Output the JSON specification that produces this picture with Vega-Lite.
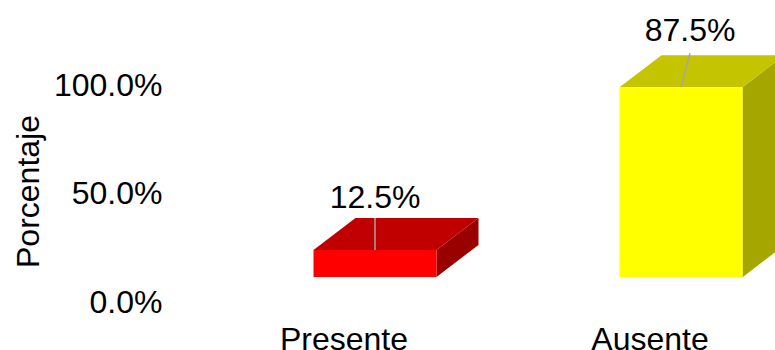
{
  "$schema": "https://vega.github.io/schema/vega-lite/v6.json",
  "autosize": "none",
  "padding": {"left": 191, "top": 85, "right": 0, "bottom": 48},
  "width": 612,
  "height": 217,
  "background": "white",
  "config": {"view": {"stroke": null}, "font": "Liberation Sans"},
  "data": {"values": [
    {"categoria": "Presente", "porcentaje": 0.125},
    {"categoria": "Ausente", "porcentaje": 0.875}
  ]},
  "encoding": {
    "x": {
      "field": "categoria",
      "type": "nominal",
      "sort": ["Presente", "Ausente"],
      "scale": {"paddingInner": 0, "paddingOuter": 0},
      "axis": {"title": null, "labelAngle": 0, "domain": false, "ticks": false, "labelFontSize": 32, "labelColor": "#000000", "labelPadding": 37, "labelBaseline": "middle"}
    },
    "y": {
      "field": "porcentaje",
      "type": "quantitative",
      "scale": {"domain": [0, 1], "nice": false},
      "axis": {"values": [0, 0.5, 1], "format": ".1%", "title": "Porcentaje", "titleFontSize": 32, "titleFontWeight": "normal", "titleColor": "#000000", "titleY": 106, "labelFontSize": 32, "labelColor": "#000000", "labelPadding": 29, "titlePadding": 8, "domain": false, "ticks": false, "grid": false}
    }
  },
  "layer": [
    {
      "description": "Right-hand side face of each prism, as tall as its bar",
      "mark": {"type": "point", "filled": true, "opacity": 1, "size": 4, "xOffset": 92.5, "yOffset": -25},
      "encoding": {
        "color": {"field": "categoria", "scale": {"domain": ["Presente", "Ausente"], "range": ["#990000", "#a6a600"]}, "legend": null},
        "shape": {"field": "categoria", "scale": {"domain": ["Presente", "Ausente"], "range": ["M0,0L42,-32L42,-5L0,27Z", "M0,0L42,-32L42,158L0,190Z"]}, "legend": null}
      }
    },
    {
      "description": "Top face of each prism",
      "mark": {"type": "point", "filled": true, "opacity": 1, "size": 4, "xOffset": -30.5, "yOffset": -25, "shape": "M0,0L123,0L165,-32L42,-32Z"},
      "encoding": {
        "color": {"field": "categoria", "scale": {"domain": ["Presente", "Ausente"], "range": ["#c00000", "#c4c400"]}, "legend": null}
      }
    },
    {
      "description": "Front face of each prism",
      "mark": {"type": "bar", "size": 123, "xOffset": 31, "yOffset": -25, "y2Offset": -25},
      "encoding": {
        "color": {"field": "categoria", "scale": {"domain": ["Presente", "Ausente"], "range": ["#ff0000", "#ffff00"]}, "legend": null}
      }
    },
    {
      "description": "Leader lines from the bar tops up to the value labels",
      "mark": {"type": "point", "filled": false, "opacity": 1, "size": 4, "strokeWidth": 1.5, "stroke": "#a6a6a6", "xOffset": 31, "yOffset": -25},
      "encoding": {
        "shape": {"field": "categoria", "scale": {"domain": ["Presente", "Ausente"], "range": ["M0,0L0,-32", "M0,0L9,-34"]}, "legend": null}
      }
    },
    {
      "description": "Value labels",
      "mark": {"type": "text", "fontSize": 32, "color": "#000000", "baseline": "middle", "xOffset": {"expr": "datum.categoria === 'Ausente' ? 40 : 31"}, "yOffset": {"expr": "datum.categoria === 'Ausente' ? -81 : -77"}},
      "encoding": {
        "text": {"field": "porcentaje", "type": "quantitative", "format": ".1%"}
      }
    }
  ],
  "resolve": {"scale": {"color": "independent", "shape": "independent"}}
}
